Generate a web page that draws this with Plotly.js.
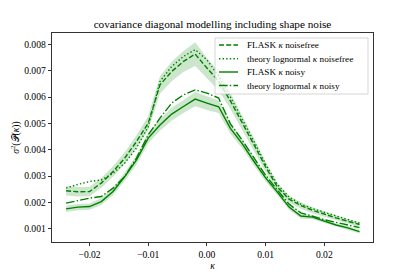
<!DOCTYPE html>
<html>
<head>
<meta charset="utf-8">
<script src="https://cdn.plot.ly/plotly-3.0.1.min.js"></script>
<style>html,body{margin:0;padding:0;background:#fff;}#chart{width:415px;height:277px;}</style>
</head>
<body>
<div id="chart"></div>
<script>
// ---- data ----
var kappa = [-0.024,-0.022,-0.020,-0.018,-0.016,-0.014,-0.012,-0.010,-0.008,-0.006,-0.004,-0.002,
             0.000,0.002,0.004,0.006,0.008,0.010,0.012,0.014,0.016,0.018,0.020,0.022,0.024,0.026];

var flaskNoisefree = [0.00244,0.00240,0.00241,0.00273,0.00317,0.00368,0.00431,0.00501,0.00646,0.00697,0.00735,0.00763,
                      0.00710,0.00660,0.00585,0.00505,0.00420,0.00335,0.00258,0.00212,0.00188,0.00170,0.00155,0.00141,0.00128,0.00116];
var theoryNoisefree = [0.00254,0.00268,0.00279,0.00285,0.00310,0.00349,0.00406,0.00488,0.00659,0.00716,0.00754,0.00780,
                       0.00741,0.00680,0.00600,0.00518,0.00432,0.00345,0.00268,0.00220,0.00193,0.00176,0.00162,0.00148,0.00134,0.00121];
var flaskNoisy = [0.00175,0.00182,0.00184,0.00203,0.00241,0.00298,0.00361,0.00444,0.00494,0.00535,0.00564,0.00592,
                  0.00577,0.00563,0.00481,0.00423,0.00356,0.00293,0.00239,0.00182,0.00148,0.00144,0.00129,0.00114,0.00103,0.00089];
var theoryNoisy = [0.00197,0.00207,0.00216,0.00222,0.00254,0.00298,0.00368,0.00456,0.00520,0.00577,0.00608,0.00627,
                   0.00615,0.00596,0.00498,0.00436,0.00370,0.00303,0.00247,0.00193,0.00160,0.00146,0.00134,0.00124,0.00114,0.00104];
var errNoisefree = [0.00018,0.00018,0.00018,0.00019,0.00020,0.00022,0.00024,0.00027,0.00033,0.00037,0.00040,0.00045,
                    0.00038,0.00035,0.00031,0.00027,0.00023,0.00019,0.00015,0.00013,0.00012,0.00011,0.00010,0.00010,0.00009,0.00009];
var errNoisy = [0.00012,0.00012,0.00012,0.00013,0.00014,0.00016,0.00018,0.00020,0.00022,0.00024,0.00025,0.00027,
                0.00026,0.00024,0.00021,0.00018,0.00016,0.00014,0.00012,0.00010,0.00009,0.00008,0.00008,0.00007,0.00007,0.00007];

var seriesNames = ['FLASK <i>κ</i> noisefree','theory lognormal <i>κ</i> noisefree','FLASK <i>κ</i> noisy','theory lognormal <i>κ</i> noisy'];

var xTickVals = [-0.02,-0.01,0.00,0.01,0.02];
var xTickText = ['\u22120.02','\u22120.01','0.00','0.01','0.02'];
var yTickVals = [0.001,0.002,0.003,0.004,0.005,0.006,0.007,0.008];
var yTickText = ['0.001','0.002','0.003','0.004','0.005','0.006','0.007','0.008'];

var titleText = 'covariance diagonal modelling including shape noise';
var xTitle = '<i>κ</i>';
var yTitle = '<i>σ</i><sup>2</sup>(𝒫(<i>κ</i>))';

// ---- styles ----
var GREEN = '#008000';
var BAND = 'rgba(0,128,0,0.2)';
var FONT = 'Liberation Serif, DejaVu Serif, serif';
var LW = 1.4;
var dashes = ['5px,2.2px', '1.4px,2.2px', 'solid', '8.6px,2.2px,1.4px,2.2px'];

function band(y, e) {
  var xs = kappa.concat(kappa.slice().reverse());
  var up = y.map(function(v,i){return v + e[i];});
  var lo = y.map(function(v,i){return v - e[i];}).reverse();
  return {x: xs, y: up.concat(lo), type:'scatter', mode:'lines', fill:'toself',
          fillcolor: BAND, line:{width:0, color:'rgba(0,0,0,0)'}, hoverinfo:'skip', showlegend:false};
}

var lineSeries = [flaskNoisefree, theoryNoisefree, flaskNoisy, theoryNoisy];
var traces = [band(flaskNoisefree, errNoisefree), band(flaskNoisy, errNoisy)];
lineSeries.forEach(function(ys, i){
  traces.push({x: kappa, y: ys, type:'scatter', mode:'lines', name: seriesNames[i],
               line:{color: GREEN, width: LW, dash: dashes[i]}, showlegend:false});
});

// ---- legend (drawn in paper coords) ----
var W = 415, H = 277, ml = 52, mr = 42, mt = 33, mb = 35;
var pw = W - ml - mr, ph = H - mt - mb;
function px2x(p){ return (p - ml) / pw; }
function py2y(p){ return (H - mb - p) / ph; }
var legRows = [45, 58.7, 72, 85.5];
var shapes = [{type:'rect', xref:'paper', yref:'paper', x0: px2x(215), x1: px2x(368), y0: py2y(94), y1: py2y(38),
               fillcolor:'rgba(255,255,255,0.8)', line:{color:'#cccccc', width:0.8}, layer:'above'}];
var annotations = [];
legRows.forEach(function(r, i){
  shapes.push({type:'line', xref:'paper', yref:'paper', x0: px2x(219), x1: px2x(238), y0: py2y(r), y1: py2y(r),
               line:{color: GREEN, width: LW, dash: dashes[i]}, layer:'above'});
  annotations.push({xref:'paper', yref:'paper', x: px2x(245), y: py2y(r), xanchor:'left', yanchor:'middle',
                    text: seriesNames[i], showarrow:false, font:{family: FONT, size: 9.2, color:'#000'}});
});

var axisCommon = {showgrid:false, zeroline:false, showline:true, mirror:true, linecolor:'#000', linewidth:0.8,
                  ticks:'outside', ticklen:3.5, tickwidth:0.8, tickcolor:'#000',
                  tickfont:{family: FONT, size: 9.6, color:'#000'}};

var layout = {
  width: W, height: H,
  margin: {l: ml, r: mr, t: mt, b: mb, pad: 0},
  paper_bgcolor:'#fff', plot_bgcolor:'#fff',
  title: {text: titleText, font:{family: FONT, size: 11.2, color:'#000'}, xref:'paper', x:0.5, xanchor:'center',
          yref:'container', y: 1 - 24/H, yanchor:'middle'},
  xaxis: Object.assign({}, axisCommon, {range:[-0.0264, 0.0283], tickmode:'array', tickvals: xTickVals, ticktext: xTickText,
          title:{text: xTitle, font:{family: FONT, size: 9.6, color:'#000'}, standoff: 3}}),
  yaxis: Object.assign({}, axisCommon, {range:[0.000494, 0.00843], tickmode:'array', tickvals: yTickVals, ticktext: yTickText,
          title:{text: yTitle, font:{family: FONT, size: 9.6, color:'#000'}, standoff: 2}}),
  shapes: shapes,
  annotations: annotations,
  showlegend:false
};

Plotly.newPlot('chart', traces, layout, {staticPlot:true, displayModeBar:false});
</script>
</body>
</html>
